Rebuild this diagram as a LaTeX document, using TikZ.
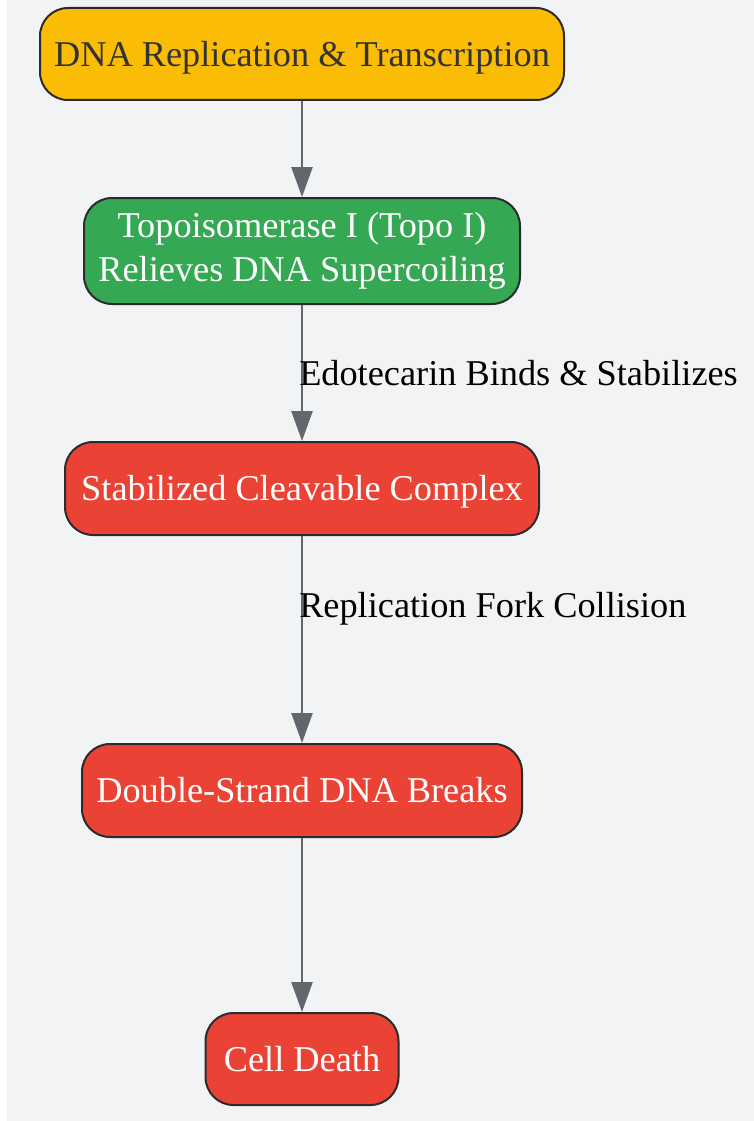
\documentclass[tikz,border=0pt]{standalone}
\usepackage{fontspec}
\setmainfont{Liberation Serif}
\usetikzlibrary{arrows.meta,positioning}

\definecolor{bgpanel}{HTML}{F2F3F5}
\definecolor{boxline}{HTML}{2B2B2B}
\definecolor{arrowgray}{HTML}{63666D}
\definecolor{replyellow}{HTML}{FBBC05}
\definecolor{topogreen}{HTML}{34A853}
\definecolor{damagered}{HTML}{EA4335}
\definecolor{darktext}{HTML}{333333}

% line box of the label font
\newcommand{\linebox}{\rule[-7.8pt]{0pt}{40.1pt}}

\begin{document}
\begin{tikzpicture}[x=1pt, y=-1pt, >={Triangle[width=21pt,length=30pt]},
    stepbox/.style={draw=boxline, line width=2pt, rounded corners=28pt, inner sep=0pt,
        font=\fontsize{36.3}{43.5}\selectfont, align=center, text=white,
        execute at begin node=\linebox, execute at end node=\linebox},
    flow/.style={draw=arrowgray, line width=2.5pt, ->},
    flowlabel/.style={anchor=west, inner sep=0pt, xshift=-4pt,
        font=\fontsize{36.3}{43.5}\selectfont, text=black,
        execute at begin node=\linebox}]
    % Background panel
    \useasboundingbox (0,0) rectangle (754,1121);
    \fill[white] (0,0) rectangle (754,1121);
    \fill[bgpanel] (7,0) rectangle (754,1121);

    % Pathway steps
    \node[stepbox, fill=replyellow, text=darktext, minimum width=524pt, minimum height=92pt] (repl) at (302,54) {DNA Replication \& Transcription};
    \node[stepbox, fill=topogreen, minimum width=436pt, minimum height=106pt] (topo) at (302,251) {Topoisomerase I (Topo I)\\Relieves DNA Supercoiling};
    \node[stepbox, fill=damagered, minimum width=474pt, minimum height=93pt] (complex) at (302,488.5) {Stabilized Cleavable Complex};
    \node[stepbox, fill=damagered, minimum width=440pt, minimum height=93pt] (breaks) at (302,790.5) {Double-Strand DNA Breaks};
    \node[stepbox, fill=damagered, minimum width=193pt, minimum height=92pt] (death) at (302,1059) {Cell Death};

    % Connectors
    \draw[flow] (repl) -- (topo);
    \draw[flow] (topo) -- node[flowlabel] {Edotecarin Binds \& Stabilizes} (complex);
    \draw[flow] (complex) -- node[flowlabel, pos=0.333] {Replication Fork Collision} (breaks);
    \draw[flow] (breaks) -- (death);
\end{tikzpicture}
\end{document}
